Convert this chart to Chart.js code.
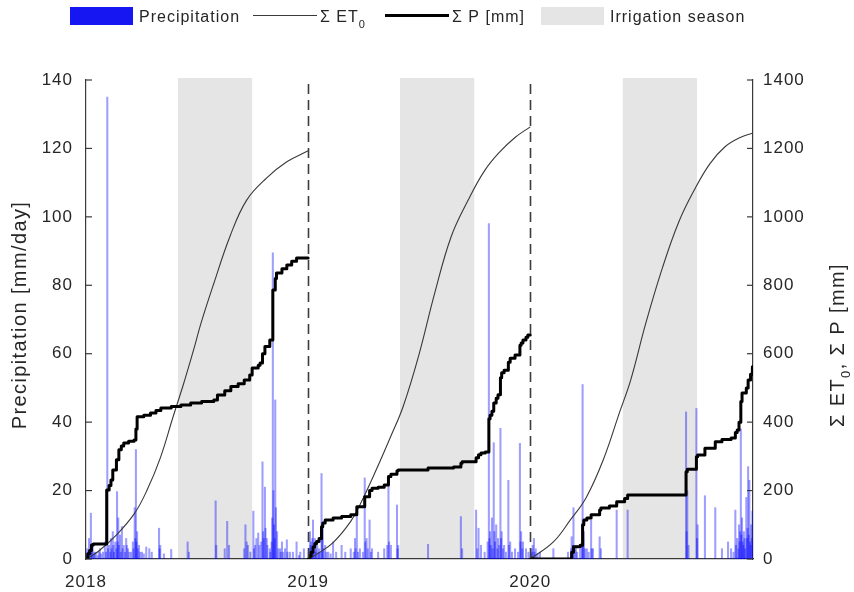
<!DOCTYPE html>
<html>
<head>
<meta charset="utf-8">
<script src="https://cdn.jsdelivr.net/npm/chart.js@4.4.1/dist/chart.umd.min.js"></script>
<style>
  html, body { margin: 0; padding: 0; background: #fff; }
  #wrap { width: 854px; height: 592px; }
</style>
</head>
<body>
<div id="wrap"><canvas id="c" width="854" height="592"></canvas></div>
<script>
// Time axis: day index counted from 1 Jan 2018 (2018 and 2019 have 365 days, 2020 has 366)
const yearLabels = ['2018', '2019', '2020'];
const yearStartDays = [0, 365, 730];
const lastDay = 1096;

// Irrigation season: 1 June to 1 October of each year
const irrigationStartDays = [151, 516, 882];
const irrigationEndDays = [273, 638, 1004];

// Daily precipitation per year [day, mm/day]
const rain2018 = [
  [1, 1.5], [2, 3], [3, 2], [4, 1], [5, 6], [6, 2.5], [8, 13.4], [9, 3], [10, 2], [11, 4], [13, 1.5], [14, 2],
  [16, 2], [19, 1], [21, 2], [23, 3], [25, 1.5], [28, 2], [31, 5], [33, 2], [35, 135], [36, 3], [38, 4], [40, 2],
  [41, 6], [42, 3], [44, 8], [45, 4], [46, 2], [48, 5], [50, 3], [51, 19.7], [52, 5], [53, 12], [54, 4], [56, 7],
  [57, 2], [59, 9.5], [60, 3], [62, 4], [64, 2], [66, 6], [67, 4], [69, 3], [71, 2], [74, 2], [77, 5], [78, 3],
  [80, 15], [81, 6], [82, 32], [83, 5], [84, 8], [85, 3], [87, 4], [89, 2], [92, 2], [95, 1.5], [99, 3.5],
  [104, 3], [108, 2], [120, 9], [121, 3], [122, 4], [128, 1.5], [140, 2.8], [167, 5], [169, 2], [213, 17],
  [214, 4], [228, 3], [232, 11], [235, 4], [260, 3], [262, 10], [264, 5], [266, 4], [270, 2], [275, 14], [276, 3],
  [278, 4], [280, 6], [283, 7.6], [285, 4], [288, 5], [290, 28.4], [291, 8], [292, 6], [294, 21], [295, 9],
  [297, 6], [298, 4], [302, 3], [303, 2], [305, 5], [306, 12], [307, 89.5], [308, 20], [309, 10], [310, 6],
  [311, 46.5], [312, 15], [314, 8], [316, 3], [319, 3], [320, 2], [322, 5], [324, 2], [327, 3], [330, 5.6],
  [331, 2], [335, 2], [340, 2], [346, 5], [350, 1], [352, 2], [358, 3]
];
const rain2019 = [
  [366, 2], [367, 3], [368, 8], [369, 4], [370, 5], [371, 2], [372, 6], [373, 11.4], [374, 3], [376, 6], [377, 2],
  [378, 3], [380, 4], [382, 2], [383, 3], [385, 2], [387, 25], [388, 6], [389, 10], [390, 3], [393, 4], [395, 2],
  [398, 2], [402, 1.5], [406, 5], [411, 2], [420, 4], [426, 2], [435, 3], [440, 2], [442, 6], [443, 3],
  [445, 12.4], [447, 2], [450, 3], [455, 2], [458, 23.7], [459, 5], [461, 6], [463, 3], [466, 11.4], [468, 2],
  [470, 3], [480, 2], [490, 3], [495, 4], [497, 23], [498, 5], [501, 4], [511, 15.8], [512, 3], [513, 4],
  [562, 4.3], [616, 12.4], [618, 3], [641, 14.3], [643, 3], [645, 9], [649, 4], [655, 2], [660, 5], [662, 98],
  [663, 6], [664, 8], [665, 4], [667, 12], [668, 3], [670, 34], [671, 8], [672, 5], [674, 10], [676, 3], [677, 6],
  [679, 4], [681, 38.2], [682, 6], [683, 8], [685, 3], [687, 4], [690, 2], [694, 23], [695, 4], [697, 5],
  [700, 2], [705, 3], [710, 2], [713, 33.8], [714, 5], [715, 8], [717, 3], [718, 5], [723, 3], [727, 2]
];
const rain2020 = [
  [731, 1.5], [732, 3], [733, 2], [734, 4], [736, 6], [737, 2], [739, 3], [742, 1.5], [746, 2], [768, 3],
  [792, 2], [797, 3], [798, 6.5], [800, 4], [801, 15], [803, 3], [805, 4], [807, 2], [812, 3], [815, 4],
  [816, 51], [817, 6], [818, 8], [820, 3], [823, 3], [826, 2], [830, 11.4], [831, 3], [833, 3], [844, 6.5],
  [846, 3], [872, 14.3], [890, 14.3], [986, 43], [987, 8], [988, 20], [990, 4], [1003, 44], [1004, 6],
  [1005, 10], [1017, 18.5], [1034, 15], [1045, 3], [1055, 5], [1060, 3], [1064, 2], [1067, 14.3], [1068, 4],
  [1070, 6], [1072, 3], [1073, 10], [1074, 5], [1075, 8], [1076, 38], [1077, 7], [1078, 12], [1079, 5],
  [1080, 4], [1081, 8], [1082, 6], [1083, 3], [1085, 18], [1086, 6], [1087, 9], [1088, 27], [1089, 7],
  [1090, 23], [1091, 5], [1092, 4], [1093, 10], [1094, 6], [1095, 14]
];

// Cumulative reference evapotranspiration per year [day, mm]
const sumEt2018 = [[0, 0], [20, 22], [51, 72], [80, 134], [100, 200], [122, 295], [143, 415], [160, 510],
  [175, 600], [190, 695], [209, 800], [237, 945], [264, 1049], [297, 1114], [330, 1161], [365, 1193]];
const sumEt2019 = [[365, 0], [380, 15], [406, 48], [435, 110], [452, 165], [478, 265], [500, 355], [521, 445],
  [546, 590], [573, 777], [600, 942], [628, 1049], [655, 1135], [680, 1190], [705, 1232], [730, 1263]];
const sumEt2020 = [[730, 0], [768, 50], [795, 112], [822, 180], [850, 290], [877, 430], [895, 523], [920, 690],
  [947, 850], [974, 985], [1000, 1080], [1025, 1155], [1050, 1205], [1075, 1232], [1096, 1245]];

// Cumulative precipitation per year [day, mm], level reached on that day
const sumP2018 = [[0, 0], [3, 15], [6, 25], [9, 41], [12, 44], [34, 202], [38, 215], [41, 231], [44, 260], [50, 290],
  [54, 319], [58, 330], [62, 339], [70, 344], [79, 348], [82, 380], [84, 416], [95, 420], [106, 427], [115, 434],
  [123, 441], [140, 446], [156, 450], [172, 456], [190, 460], [210, 465], [216, 479], [228, 492], [238, 504],
  [250, 512], [260, 523], [269, 538], [273, 558], [283, 566], [286, 573], [290, 600], [294, 621], [302, 640],
  [307, 786], [311, 820], [313, 836], [322, 848], [330, 859], [338, 870], [346, 880], [365, 880]];
const sumP2019 = [[365, 0], [368, 10], [370, 20], [373, 35], [376, 45], [379, 51], [383, 60], [387, 94], [389, 105],
  [393, 114], [406, 120], [420, 124], [435, 129], [445, 153], [458, 182], [466, 200], [470, 207], [480, 210],
  [490, 216], [497, 241], [501, 248], [511, 258], [513, 260], [562, 266], [604, 269], [616, 280], [618, 284],
  [641, 296], [645, 305], [649, 310], [656, 313], [662, 410], [664, 420], [667, 432], [670, 456], [674, 470],
  [677, 480], [681, 530], [683, 544], [687, 552], [694, 575], [697, 587], [705, 596], [713, 625], [715, 631],
  [718, 640], [723, 648], [726, 655], [730, 655]];
const sumP2020 = [[730, 0], [797, 0], [798, 20], [801, 36], [812, 40], [816, 100], [818, 114], [823, 120], [830, 129],
  [844, 143], [846, 149], [860, 155], [872, 167], [885, 177], [890, 187], [985, 187], [986, 255], [988, 262],
  [1003, 299], [1005, 304], [1017, 324], [1034, 343], [1045, 349], [1060, 354], [1067, 370], [1070, 377],
  [1073, 400], [1076, 460], [1078, 485], [1085, 500], [1088, 523], [1092, 540], [1095, 562]];

const FONT = "'Liberation Sans', Arial, Helvetica, sans-serif";
const INK = '#262626';
const AXIS = '#3a3a3a';
const RAIN = 'rgba(0, 0, 255, 0.38)';
const BAND = '#e5e5e5';

const toXY = pairs => pairs.map(([x, y]) => ({ x, y }));

const etLine = pairs => ({
  type: 'line', data: toXY(pairs), yAxisID: 'y2', borderColor: '#383838', borderWidth: 1.1,
  pointRadius: 0, fill: false, tension: 0.4
});
const pLine = pairs => ({
  type: 'line', data: toXY(pairs), yAxisID: 'y2', borderColor: '#000', borderWidth: 3,
  pointRadius: 0, fill: false, stepped: true, borderJoinStyle: 'round', borderCapStyle: 'round'
});

// Draws a run of text pieces along the current baseline, each with its own font and vertical shift
function drawPieces(ctx, pieces, x, y) {
  let cx = x;
  pieces.forEach(([text, font, dy]) => {
    ctx.font = font;
    ctx.fillText(text, cx, y + dy);
    cx += ctx.measureText(text).width;
  });
}
function piecesWidth(ctx, pieces) {
  return pieces.reduce((w, [text, font]) => { ctx.font = font; return w + ctx.measureText(text).width; }, 0);
}

// Irrigation bands, year separators, inward ticks, legend and axis titles
const decor = {
  id: 'decor',
  beforeDraw(chart) {
    chart.ctx.letterSpacing = '1px';
  },
  beforeDatasetsDraw(chart) {
    const { ctx, chartArea: a, scales: { x } } = chart;
    ctx.save();
    ctx.fillStyle = BAND;
    irrigationStartDays.forEach((s, i) => {
      const x0 = x.getPixelForValue(s);
      const x1 = x.getPixelForValue(irrigationEndDays[i]);
      ctx.fillRect(x0, a.top - 2, x1 - x0, a.bottom - a.top + 1);
    });
    ctx.restore();
  },
  afterDatasetsDraw(chart) {
    const { ctx, chartArea: a, scales: { x, y, y2 } } = chart;
    ctx.save();
    ctx.strokeStyle = '#3c3c3c';
    ctx.lineWidth = 1.6;
    ctx.setLineDash([10, 6]);
    yearStartDays.slice(1).forEach(d => {
      const px = Math.round(x.getPixelForValue(d)) + 0.5;
      ctx.beginPath();
      ctx.moveTo(px, a.top + 4);
      ctx.lineTo(px, a.bottom);
      ctx.stroke();
    });
    ctx.setLineDash([]);
    ctx.strokeStyle = AXIS;
    ctx.lineWidth = 1.2;
    y.ticks.forEach(t => {
      const py = y.getPixelForValue(t.value);
      ctx.beginPath(); ctx.moveTo(a.left, py); ctx.lineTo(a.left + 6, py); ctx.stroke();
    });
    y2.ticks.forEach(t => {
      const py = y2.getPixelForValue(t.value);
      ctx.beginPath(); ctx.moveTo(a.right - 6, py); ctx.lineTo(a.right, py); ctx.stroke();
    });
    ctx.restore();
  },
  afterDraw(chart) {
    const { ctx } = chart;
    ctx.save();
    ctx.letterSpacing = '1px';
    ctx.fillStyle = INK;
    ctx.textBaseline = 'alphabetic';
    const big = `16px ${FONT}`;
    const sub = `11px ${FONT}`;

    // legend
    ctx.fillStyle = '#1616f2';
    ctx.fillRect(70, 7, 63, 18);
    ctx.fillStyle = INK;
    ctx.font = big;
    ctx.fillText('Precipitation', 139, 22);

    ctx.strokeStyle = '#3a3a3a';
    ctx.lineWidth = 1.1;
    ctx.beginPath(); ctx.moveTo(253, 15.5); ctx.lineTo(317, 15.5); ctx.stroke();
    drawPieces(ctx, [['\u03A3 ET', big, 0], ['0', sub, 6]], 320, 22);

    ctx.strokeStyle = '#000';
    ctx.lineWidth = 3;
    ctx.beginPath(); ctx.moveTo(385, 15.5); ctx.lineTo(449, 15.5); ctx.stroke();
    ctx.font = big;
    ctx.fillText('\u03A3 P [mm]', 452, 22);

    ctx.fillStyle = BAND;
    ctx.fillRect(541, 7, 63, 18);
    ctx.fillStyle = INK;
    ctx.fillText('Irrigation season', 610, 22);

    // axis titles, both reading bottom to top
    ctx.letterSpacing = '1.4px';
    const tBig = `20px ${FONT}`;
    const tSub = `13px ${FONT}`;
    const left = [['Precipitation [mm/day]', tBig, 0]];
    const right = [['\u03A3 ET', tBig, 0], ['0', tSub, 6], [', \u03A3 P [mm]', tBig, 0]];

    ctx.save();
    ctx.translate(19, 315);
    ctx.rotate(-Math.PI / 2);
    drawPieces(ctx, left, -piecesWidth(ctx, left) / 2, 7);
    ctx.restore();

    ctx.save();
    ctx.translate(837, 345);
    ctx.rotate(-Math.PI / 2);
    drawPieces(ctx, right, -piecesWidth(ctx, right) / 2, 7);
    ctx.restore();

    ctx.restore();
  }
};

const tickFont = { family: FONT, size: 17 };

new Chart(document.getElementById('c'), {
  type: 'bar',
  data: {
    datasets: [
      pLine(sumP2018), pLine(sumP2019), pLine(sumP2020),
      etLine(sumEt2018), etLine(sumEt2019), etLine(sumEt2020),
      {
        type: 'bar', label: 'Precipitation', yAxisID: 'y',
        data: toXY([...rain2018, ...rain2019, ...rain2020]),
        backgroundColor: RAIN, borderWidth: 0, barThickness: 1.4, grouped: false
      }
    ]
  },
  options: {
    responsive: false,
    animation: false,
    devicePixelRatio: 1,
    layout: { padding: { top: 80, left: 0, right: 0, bottom: 0 } },
    plugins: { legend: { display: false }, tooltip: { enabled: false } },
    scales: {
      x: {
        type: 'linear', min: 0, max: lastDay, offset: false,
        grid: { display: false, drawTicks: false, offset: false },
        border: { display: true, color: AXIS, width: 1.2 },
        afterBuildTicks: s => { s.ticks = yearStartDays.map(v => ({ value: v })); },
        afterFit: s => { s.height = 33; },
        ticks: {
          padding: 13, color: INK, font: tickFont, maxRotation: 0, autoSkip: false,
          callback: (v, i) => yearLabels[i]
        }
      },
      y: {
        position: 'left', min: 0, max: 140,
        grid: { display: false, drawTicks: false },
        border: { display: true, color: AXIS, width: 1.2 },
        afterFit: s => { s.width = 86; },
        ticks: { stepSize: 20, padding: 13, color: INK, font: tickFont }
      },
      y2: {
        position: 'right', min: 0, max: 1400,
        grid: { display: false, drawTicks: false },
        border: { display: true, color: AXIS, width: 1.2 },
        afterFit: s => { s.width = 101; },
        ticks: { stepSize: 200, padding: 10, color: INK, font: tickFont, callback: v => String(v) }
      }
    }
  },
  plugins: [decor]
});
</script>
</body>
</html>
